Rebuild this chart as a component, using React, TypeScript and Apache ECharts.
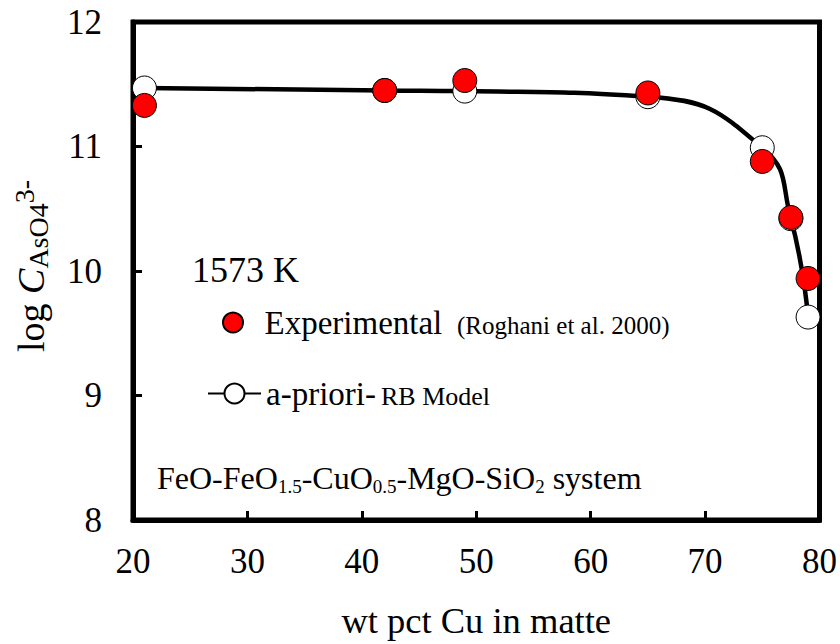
import React, { useEffect, useRef } from 'react';
import * as echarts from 'echarts';

const FONT = 'Liberation Serif';

// Axis ticks
const xTicks = [20, 30, 40, 50, 60, 70, 80];
const yTicks = [8, 9, 10, 11, 12];

// a-priori RB model (wt pct Cu, log C)
const cuModel = [21, 42, 49, 65, 75, 77.5, 79];
const logCModel = [11.47, 11.45, 11.445, 11.4, 10.99, 10.42, 9.63];

// Experimental (Roghani et al. 2000)
const cuExp = [21, 42, 49, 65, 75, 77.5, 79];
const logCExp = [11.33, 11.45, 11.53, 11.43, 10.88, 10.43, 9.94];

export default function App() {
  const ref = useRef<HTMLDivElement>(null);
  useEffect(() => {
    const chart = echarts.init(ref.current!, null, { renderer: 'svg' });
    const modelData = cuModel.map((x, i) => [x, logCModel[i]]);
    const expData = cuExp.map((x, i) => [x, logCExp[i]]);
    const richText = (x: number, y: number, text: string, size: number) => ({
      type: 'text',
      x,
      y,
      style: {
        text: `{t|${text}}`,
        align: 'left',
        verticalAlign: 'middle',
        textAlign: 'left',
        textVerticalAlign: 'middle',
        rich: { t: { fontSize: size, fontFamily: FONT, fill: '#000', color: '#000', lineHeight: size + 4 } },
      },
    });
    const option = {
      animation: false,
      backgroundColor: '#ffffff',
      textStyle: { fontFamily: FONT, color: '#000' },
      grid: {
        left: 133,
        right: 19,
        top: 22,
        bottom: 124,
        show: true,
        borderColor: '#000',
        borderWidth: 5,
        backgroundColor: 'transparent',
      },
      xAxis: {
        type: 'value',
        min: xTicks[0],
        max: xTicks[xTicks.length - 1],
        interval: xTicks[1] - xTicks[0],
        axisLine: { show: true, lineStyle: { color: '#000', width: 5 } },
        axisTick: { show: true, inside: true, length: 9, lineStyle: { color: '#000', width: 3 } },
        splitLine: { show: false },
        axisLabel: { color: '#000', fontSize: 35, fontFamily: FONT, margin: 24 },
        name: 'wt pct Cu in matte',
        nameLocation: 'middle',
        nameGap: 82,
        nameTextStyle: { color: '#000', fontSize: 36.5, fontFamily: FONT },
      },
      yAxis: {
        type: 'value',
        min: yTicks[0],
        max: yTicks[yTicks.length - 1],
        interval: yTicks[1] - yTicks[0],
        axisLine: { show: true, lineStyle: { color: '#000', width: 5 } },
        axisTick: { show: true, inside: true, length: 9, lineStyle: { color: '#000', width: 3 } },
        splitLine: { show: false },
        axisLabel: { color: '#000', fontSize: 35, fontFamily: FONT, margin: 31 },
      },
      legend: [
        {
          data: ['Experimental'],
          left: 222,
          top: 306,
          padding: 0,
          itemWidth: 53,
          itemHeight: 20,
          selectedMode: false,
          formatter: () => 'Experimental',
          textStyle: { color: '#000', fontFamily: FONT, fontSize: 33 },
        },
        {
          data: ['a-priori'],
          left: 207,
          top: 377,
          padding: 0,
          itemWidth: 53,
          itemHeight: 25,
          selectedMode: false,
          formatter: () => 'a-priori-',
          textStyle: { color: '#000', fontFamily: FONT, fontSize: 33 },
        },
      ],
      graphic: [
        {
          type: 'text',
          x: 31,
          y: 352,
          rotation: Math.PI / 2,
          style: {
            text: '{a|log }{c|C}{b|AsO4}{p|3-}',
            align: 'left',
            verticalAlign: 'middle',
            textAlign: 'left',
            textVerticalAlign: 'middle',
            rich: {
              a: { fontSize: 38, fontFamily: FONT, fill: '#000', color: '#000', lineHeight: 42 },
              c: { fontSize: 38, fontFamily: FONT, fontStyle: 'italic', fill: '#000', color: '#000', lineHeight: 42 },
              b: { fontSize: 28, fontFamily: FONT, fill: '#000', color: '#000', lineHeight: 16, verticalAlign: 'bottom' },
              p: { fontSize: 28, fontFamily: FONT, fill: '#000', color: '#000', lineHeight: 12, verticalAlign: 'top' },
            },
          },
        },
        richText(192, 270, '1573 K', 36),
        richText(457, 325, '(Roghani et al. 2000)', 25),
        richText(381, 396, 'RB Model', 26),
        {
          type: 'text',
          x: 157,
          y: 478,
          style: {
            text: '{m|FeO-FeO}{s|1.5}{m|-CuO}{s|0.5}{m|-MgO-SiO}{s|2}{m| system}',
            align: 'left',
            verticalAlign: 'middle',
            textAlign: 'left',
            textVerticalAlign: 'middle',
            rich: {
              m: { fontSize: 32, fontFamily: FONT, fill: '#000', color: '#000', lineHeight: 36 },
              s: { fontSize: 19, fontFamily: FONT, fill: '#000', color: '#000', lineHeight: 14, verticalAlign: 'bottom' },
            },
          },
        },
      ],
      series: [
        {
          name: 'a-priori',
          type: 'line',
          data: modelData,
          smooth: 0.5,
          symbol: 'circle',
          symbolSize: 24,
          showAllSymbol: true,
          lineStyle: { color: '#000', width: 4.5 },
          itemStyle: { color: '#fff', borderColor: '#000', borderWidth: 1 },
          z: 2,
        },
        {
          name: 'Experimental',
          type: 'scatter',
          data: expData,
          symbol: 'circle',
          symbolSize: 24,
          itemStyle: { color: '#ff0000', borderColor: '#000', borderWidth: 1, opacity: 1 },
          z: 3,
        },
      ],
    };
    chart.setOption(option as any);
    return () => chart.dispose();
  }, []);
  return (
    <div
      ref={ref}
      style={{ position: 'fixed', left: 0, top: 0, width: 840, height: 644, background: '#fff' }}
    />
  );
}
